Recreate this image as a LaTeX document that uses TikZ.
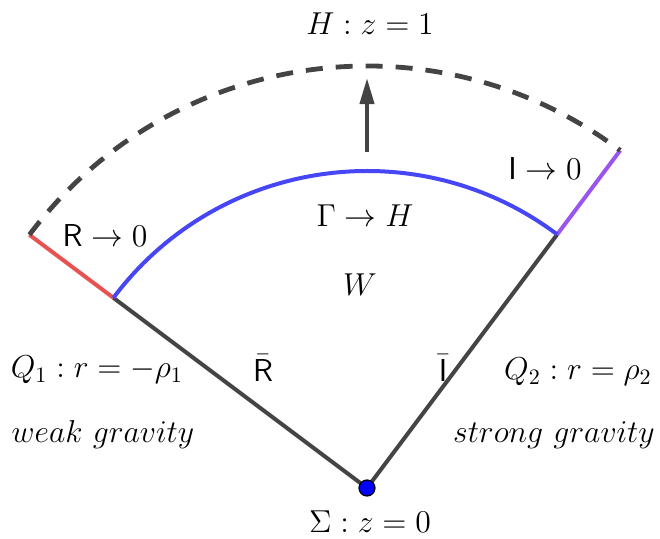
\documentclass[tikz,border=0pt]{standalone}
\usepackage{amsmath, amssymb}
\usepackage{tikz}
\usetikzlibrary{arrows.meta,calc}
\usepackage{xcolor}

\definecolor{edgegray}{HTML}{444444}
\definecolor{endred}{HTML}{E85252}
\definecolor{arcblue}{HTML}{4646F5}
\definecolor{endpurple}{HTML}{9A55EE}

\tikzset{
    rim/.style={line width=2pt, edgegray},
    lbl/.style={inner sep=0pt, font=\Large, scale=1.1, transform shape},
}

\begin{document}
\begin{tikzpicture}[x=0.5pt, y=0.5pt]
    \useasboundingbox (0,0) rectangle (660,538);
    % apex and the ends of the two rays
    \coordinate (sigma) at (367,50);
    \coordinate (q1in) at ($(sigma)+(143.13:317)$);
    \coordinate (q1out) at ($(sigma)+(143.13:422)$);
    \coordinate (q2in) at ($(sigma)+(53.13:317)$);
    \coordinate (q2out) at ($(sigma)+(53.13:422)$);

    % rays
    \draw[rim] (sigma) -- (q1in);
    \draw[rim] (sigma) -- (q2in);
    \draw[line width=2pt, endred] (q1in) -- (q1out);
    \draw[line width=2pt, endpurple] (q2in) -- (q2out);

    % arcs
    \draw[line width=2pt, arcblue] (q1in) arc[start angle=143.13, end angle=53.13, radius=317];
    \draw[rim, line width=2.4pt, dash pattern=on 8.5pt off 6.5pt] (q1out) arc[start angle=143.13, end angle=53.13, radius=422];

    % arrow towards H
    \coordinate (flowtail) at (367,386);
    \coordinate (flowtip) at (367,460);
    \draw[rim, -{Triangle[length=13pt, width=7pt]}] (flowtail) -- (flowtip);

    \node[circle, draw=black, fill=blue, line width=0.6pt, minimum size=8pt, inner sep=0pt] (sigmadot) at (sigma) {};

    % labels
    \node[lbl] (hlbl) at (370,514) {$H : z = 1$};
    \node[lbl] (rlbl) at (105,303) {$\mathsf{R} \to 0$};
    \node[lbl] (ilbl) at (545,370) {$\mathsf{I} \to 0$};
    \node[lbl] (gammalbl) at (365,322) {$\Gamma \to H$};
    \node[lbl] (wlbl) at (360,253) {$W$};
    \node[lbl] (rbarlbl) at (263,170) {$\bar{\mathsf{R}}$};
    \node[lbl] (ibarlbl) at (443,170) {$\bar{\mathsf{I}}$};
    \node[lbl] (q1lbl) at (97,168) {$Q_1 : r = -\rho_1$};
    \node[lbl] (weaklbl) at (103,103) {$weak\ gravity$};
    \node[lbl] (q2lbl) at (578,166) {$Q_2 : r = \rho_2$};
    \node[lbl] (stronglbl) at (554,103) {$strong\ gravity$};
    \node[lbl] (sigmalbl) at (370,16) {$\Sigma : z = 0$};
\end{tikzpicture}
\end{document}
